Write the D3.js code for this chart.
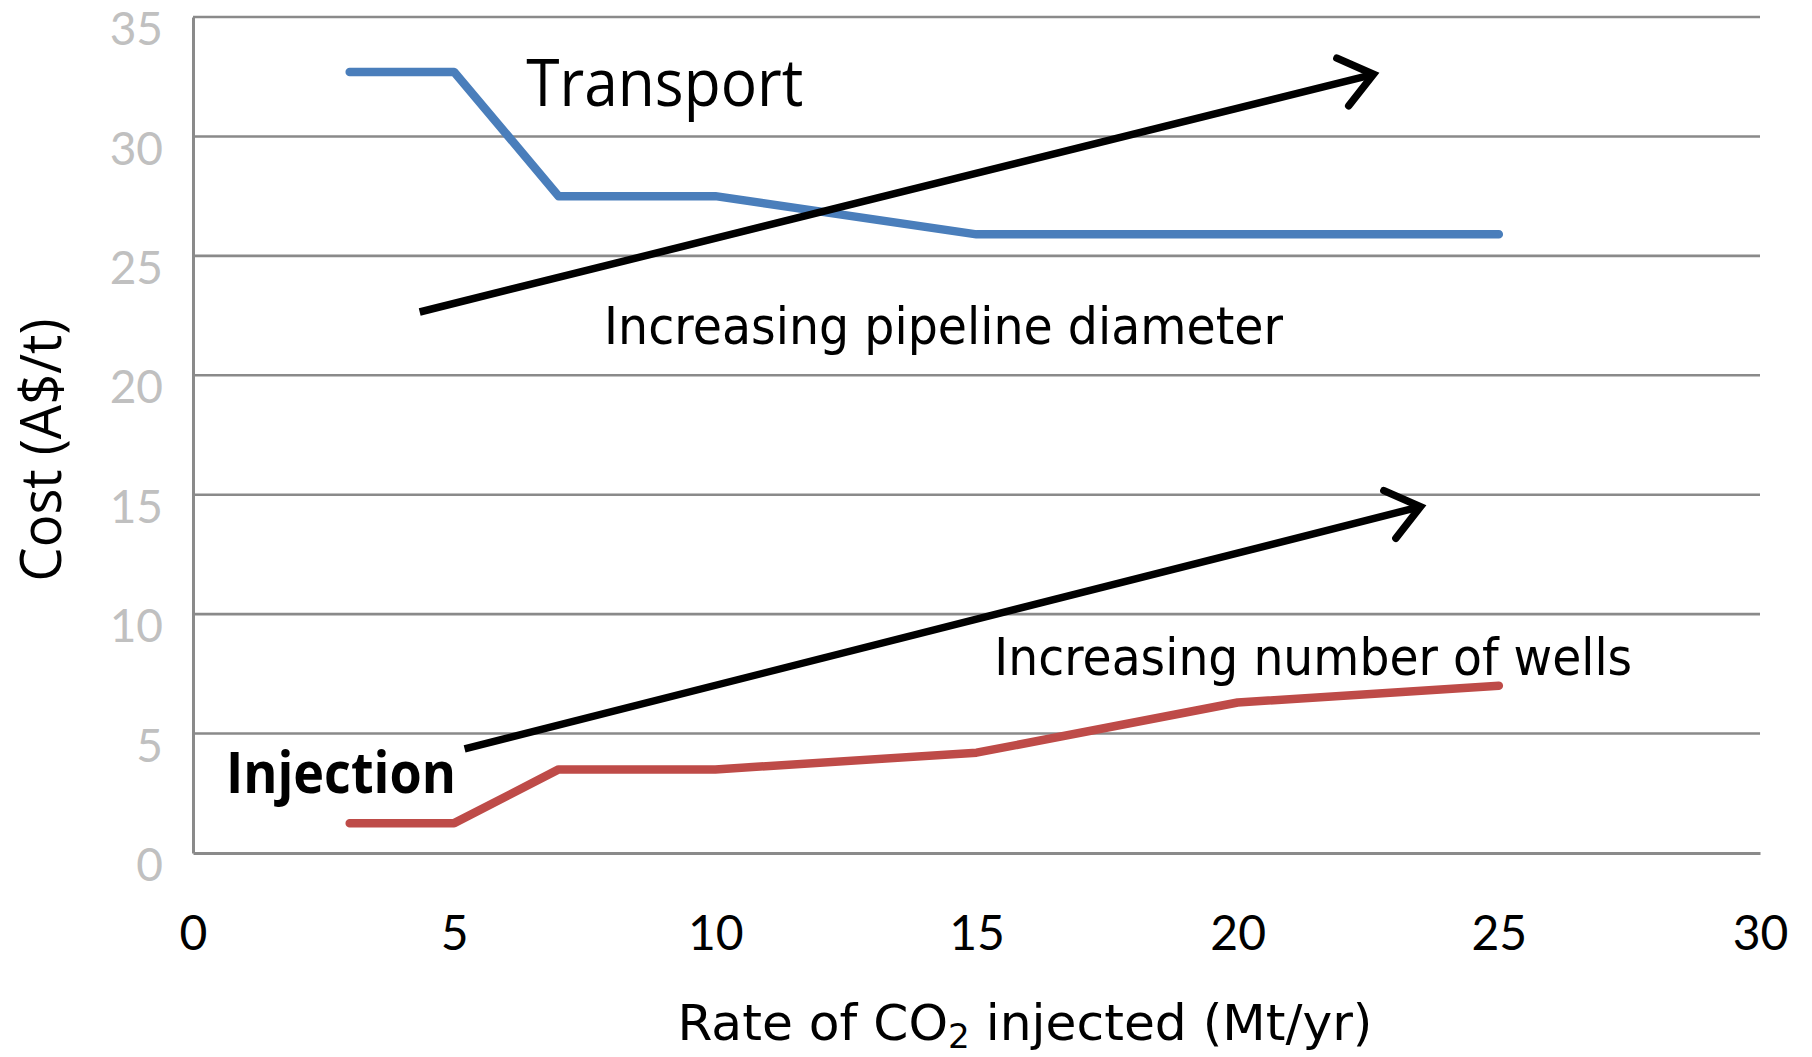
<!DOCTYPE html>
<html>
<head>
<meta charset="utf-8">
<script src="https://cdn.jsdelivr.net/npm/d3@7"></script>
<style>
  html, body { margin: 0; padding: 0; background: #ffffff; }
  svg { display: block; }
</style>
</head>
<body>
<svg id="chart" width="1812" height="1057"></svg>
<script>
// ---- data ----
const rate = [3, 5, 7, 10, 15, 20, 25];
const transportCost = [32.7, 32.7, 27.5, 27.5, 25.9, 25.9, 25.9];
const injectionCost = [1.25, 1.25, 3.5, 3.5, 4.2, 6.3, 7.0];
const xTickValues = [0, 5, 10, 15, 20, 25, 30];
const yTickValues = [0, 5, 10, 15, 20, 25, 30, 35];
const seriesNames = ["Transport", "Injection"];
const arrowNotes = ["Increasing pipeline diameter", "Increasing number of wells"];
// arrows in data units: [x0, y0, x1, y1]
const pipelineArrow = [4.34, 22.65, 22.6, 32.6];
const wellsArrow = [5.2, 4.36, 23.5, 14.5];

// ---- layout ----
const svg = d3.select("#chart");
const x = d3.scaleLinear().domain([0, 30]).range([193, 1760]);
const y = d3.scaleLinear().domain([0, 35]).range([853, 17]);
const gridColor = "#8a8a8a";

// gridlines
svg.append("g").selectAll("line").data(yTickValues.filter(v => v > 0)).join("line")
  .attr("x1", x(0)).attr("x2", x(30))
  .attr("y1", d => y(d)).attr("y2", d => y(d))
  .attr("stroke", gridColor).attr("stroke-width", 2.6);

// axes
const yAxis = svg.append("g").attr("transform", `translate(${x(0)},0)`)
  .call(d3.axisLeft(y).tickValues(yTickValues).tickSize(0).tickPadding(30));
yAxis.select(".domain").attr("stroke", gridColor).attr("stroke-width", 3);
yAxis.selectAll("text")
  .attr("fill", "#c0c0c0").attr("font-family", "Lato").attr("font-size", 46)
  .attr("dy", "0.6em");

const xAxis = svg.append("g").attr("transform", `translate(0,${y(0)})`)
  .call(d3.axisBottom(x).tickValues(xTickValues).tickSize(0).tickPadding(97));
xAxis.select(".domain").attr("stroke", gridColor).attr("stroke-width", 3);
xAxis.selectAll("text")
  .attr("fill", "#000").attr("font-family", "Lato").attr("font-size", 48)
  .attr("dy", "0");

// lines
const line = d3.line().x(d => x(d[0])).y(d => y(d[1]));
svg.append("path").datum(rate.map((r, i) => [r, transportCost[i]]))
  .attr("d", line).attr("fill", "none").attr("stroke", "#4a7ebb")
  .attr("stroke-width", 8.5).attr("stroke-linecap", "round").attr("stroke-linejoin", "round");
svg.append("path").datum(rate.map((r, i) => [r, injectionCost[i]]))
  .attr("d", line).attr("fill", "none").attr("stroke", "#be4b48")
  .attr("stroke-width", 8.5).attr("stroke-linecap", "round").attr("stroke-linejoin", "round");

// arrows
function drawArrow(a) {
  const x0 = x(a[0]), y0 = y(a[1]), x1 = x(a[2]), y1 = y(a[3]);
  const ang = Math.atan2(y1 - y0, x1 - x0);
  const L = 40, spread = 0.66;
  const g = svg.append("g").attr("stroke", "#000").attr("stroke-width", 7.5)
    .attr("fill", "none").attr("stroke-linecap", "round").attr("stroke-linejoin", "miter");
  g.append("line").attr("x1", x0).attr("y1", y0).attr("x2", x1 - 4 * Math.cos(ang)).attr("y2", y1 - 4 * Math.sin(ang))
    .attr("stroke-linecap", "butt");
  g.append("path").attr("d",
    `M${x1 - L * Math.cos(ang - spread)},${y1 - L * Math.sin(ang - spread)} L${x1},${y1} L${x1 - L * Math.cos(ang + spread)},${y1 - L * Math.sin(ang + spread)}`);
}
drawArrow(pipelineArrow);
drawArrow(wellsArrow);

// annotations
function label(txt, dx, dy, size, weight, family, len) {
  svg.append("text").attr("x", x(dx)).attr("y", y(dy))
    .attr("font-family", family).attr("font-size", size).attr("font-weight", weight)
    .attr("fill", "#000").attr("textLength", len).attr("lengthAdjust", "spacingAndGlyphs")
    .text(txt);
}
label(seriesNames[0], 6.38, 31.28, 66, "normal", "Open Sans", 277);
label(seriesNames[1], 0.63, 2.51, 58, "bold", "Open Sans", 230);
label(arrowNotes[0], 7.87, 21.3, 51, "normal", "DejaVu Sans", 679);
label(arrowNotes[1], 15.34, 7.45, 51, "normal", "DejaVu Sans", 638);

// axis titles
const xt = svg.append("text").attr("x", 1025).attr("y", 1040)
  .attr("text-anchor", "middle").attr("font-family", "DejaVu Sans").attr("font-size", 50)
  .attr("fill", "#000").attr("textLength", 695).attr("lengthAdjust", "spacingAndGlyphs");
xt.append("tspan").text("Rate of CO");
xt.append("tspan").attr("font-size", 34).attr("dy", 8).text("2");
xt.append("tspan").attr("dy", -8).text(" injected (Mt/yr)");

svg.append("text").attr("transform", "translate(61,450) rotate(-90)")
  .attr("text-anchor", "middle").attr("font-family", "Open Sans").attr("font-size", 56)
  .attr("fill", "#000").attr("textLength", 263).attr("lengthAdjust", "spacingAndGlyphs")
  .text("Cost (A$/t)");
</script>
</body>
</html>
